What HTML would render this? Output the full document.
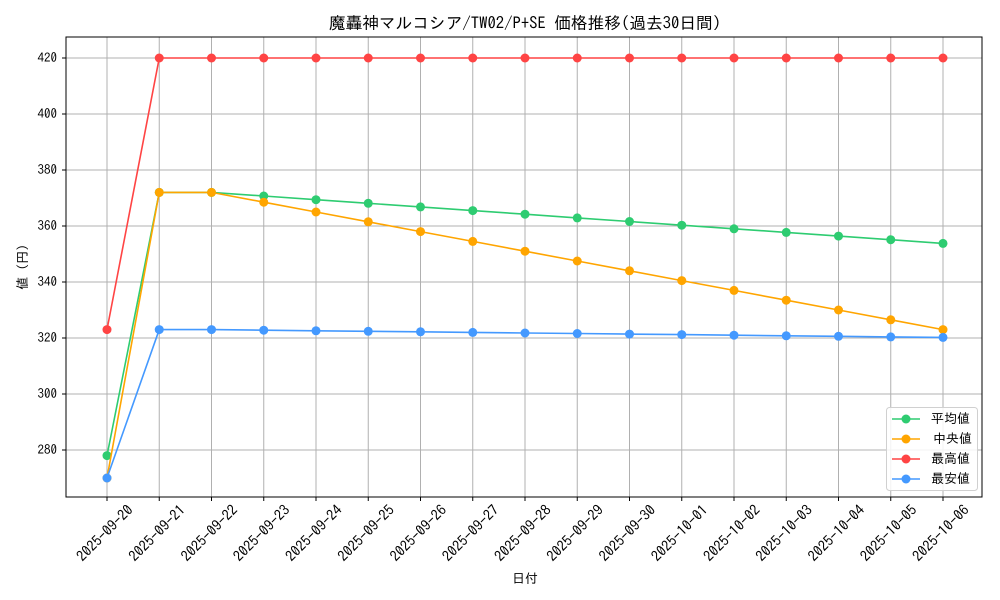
<!DOCTYPE html>
<html><head><meta charset="utf-8"><style>body{margin:0;background:#fff}svg{display:block}text{font-family:"IPAGothic","Liberation Sans",sans-serif;fill:#000}</style></head><body>
<svg width="1000" height="600" xmlns="http://www.w3.org/2000/svg">
<g stroke="#b0b0b0" stroke-width="1">
<line x1="107" y1="37" x2="107" y2="497"/><line x1="159.25" y1="37" x2="159.25" y2="497"/><line x1="211.5" y1="37" x2="211.5" y2="497"/><line x1="263.75" y1="37" x2="263.75" y2="497"/><line x1="316" y1="37" x2="316" y2="497"/><line x1="368.25" y1="37" x2="368.25" y2="497"/><line x1="420.5" y1="37" x2="420.5" y2="497"/><line x1="472.75" y1="37" x2="472.75" y2="497"/><line x1="525" y1="37" x2="525" y2="497"/><line x1="577.25" y1="37" x2="577.25" y2="497"/><line x1="629.5" y1="37" x2="629.5" y2="497"/><line x1="681.75" y1="37" x2="681.75" y2="497"/><line x1="734" y1="37" x2="734" y2="497"/><line x1="786.25" y1="37" x2="786.25" y2="497"/><line x1="838.5" y1="37" x2="838.5" y2="497"/><line x1="890.75" y1="37" x2="890.75" y2="497"/><line x1="943" y1="37" x2="943" y2="497"/>
<line x1="66" y1="450" x2="982" y2="450"/><line x1="66" y1="394" x2="982" y2="394"/><line x1="66" y1="338" x2="982" y2="338"/><line x1="66" y1="282" x2="982" y2="282"/><line x1="66" y1="226" x2="982" y2="226"/><line x1="66" y1="170" x2="982" y2="170"/><line x1="66" y1="114" x2="982" y2="114"/><line x1="66" y1="58" x2="982" y2="58"/>
</g>
<rect x="66" y="37" width="916" height="460" fill="none" stroke="#000" stroke-width="1"/>
<g stroke="#000"><line x1="62" y1="450" x2="66" y2="450"/><line x1="62" y1="394" x2="66" y2="394"/><line x1="62" y1="338" x2="66" y2="338"/><line x1="62" y1="282" x2="66" y2="282"/><line x1="62" y1="226" x2="66" y2="226"/><line x1="62" y1="170" x2="66" y2="170"/><line x1="62" y1="114" x2="66" y2="114"/><line x1="62" y1="58" x2="66" y2="58"/></g>
<g font-size="13" text-anchor="end"><text x="57" y="454">280</text><text x="57" y="398">300</text><text x="57" y="342">320</text><text x="57" y="286">340</text><text x="57" y="230">360</text><text x="57" y="174">380</text><text x="57" y="118">400</text><text x="57" y="62">420</text></g>
<g font-size="14.5" text-anchor="end">
<text transform="translate(134,511) rotate(-45)">2025-09-20</text>
<text transform="translate(186.25,511) rotate(-45)">2025-09-21</text>
<text transform="translate(238.5,511) rotate(-45)">2025-09-22</text>
<text transform="translate(290.75,511) rotate(-45)">2025-09-23</text>
<text transform="translate(343,511) rotate(-45)">2025-09-24</text>
<text transform="translate(395.25,511) rotate(-45)">2025-09-25</text>
<text transform="translate(447.5,511) rotate(-45)">2025-09-26</text>
<text transform="translate(499.75,511) rotate(-45)">2025-09-27</text>
<text transform="translate(552,511) rotate(-45)">2025-09-28</text>
<text transform="translate(604.25,511) rotate(-45)">2025-09-29</text>
<text transform="translate(656.5,511) rotate(-45)">2025-09-30</text>
<text transform="translate(708.75,511) rotate(-45)">2025-10-01</text>
<text transform="translate(761,511) rotate(-45)">2025-10-02</text>
<text transform="translate(813.25,511) rotate(-45)">2025-10-03</text>
<text transform="translate(865.5,511) rotate(-45)">2025-10-04</text>
<text transform="translate(917.75,511) rotate(-45)">2025-10-05</text>
<text transform="translate(970,511) rotate(-45)">2025-10-06</text>
</g>
<g stroke="#000"><line x1="107" y1="497" x2="107" y2="501"/><line x1="159.25" y1="497" x2="159.25" y2="501"/><line x1="211.5" y1="497" x2="211.5" y2="501"/><line x1="263.75" y1="497" x2="263.75" y2="501"/><line x1="316" y1="497" x2="316" y2="501"/><line x1="368.25" y1="497" x2="368.25" y2="501"/><line x1="420.5" y1="497" x2="420.5" y2="501"/><line x1="472.75" y1="497" x2="472.75" y2="501"/><line x1="525" y1="497" x2="525" y2="501"/><line x1="577.25" y1="497" x2="577.25" y2="501"/><line x1="629.5" y1="497" x2="629.5" y2="501"/><line x1="681.75" y1="497" x2="681.75" y2="501"/><line x1="734" y1="497" x2="734" y2="501"/><line x1="786.25" y1="497" x2="786.25" y2="501"/><line x1="838.5" y1="497" x2="838.5" y2="501"/><line x1="890.75" y1="497" x2="890.75" y2="501"/><line x1="943" y1="497" x2="943" y2="501"/></g>
<text x="525" y="29" font-size="16.7" text-anchor="middle">魔轟神マルコシア/TW02/P+SE 価格推移(過去30日間)</text>
<text x="525" y="583" font-size="13" text-anchor="middle">日付</text>
<text transform="translate(27,267) rotate(-90)" font-size="13" text-anchor="middle">値 (円)</text>
<defs>
<marker id="mg" markerWidth="10" markerHeight="10" refX="5" refY="5" markerUnits="userSpaceOnUse"><circle cx="5" cy="5" r="4.5" fill="#2ecc71"/></marker>
<marker id="mo" markerWidth="10" markerHeight="10" refX="5" refY="5" markerUnits="userSpaceOnUse"><circle cx="5" cy="5" r="4.5" fill="#ffa500"/></marker>
<marker id="mr" markerWidth="10" markerHeight="10" refX="5" refY="5" markerUnits="userSpaceOnUse"><circle cx="5" cy="5" r="4.5" fill="#ff4444"/></marker>
<marker id="mb" markerWidth="10" markerHeight="10" refX="5" refY="5" markerUnits="userSpaceOnUse"><circle cx="5" cy="5" r="4.5" fill="#4499ff"/></marker>
</defs>
<g fill="none" stroke-width="1.6">
<polyline stroke="#2ecc71" marker-start="url(#mg)" marker-mid="url(#mg)" marker-end="url(#mg)" points="107,455.6 159.25,192.4 211.5,192.4 263.75,196 316,199.7 368.25,203.3 420.5,206.9 472.75,210.6 525,214.2 577.25,217.9 629.5,221.5 681.75,225.2 734,228.8 786.25,232.4 838.5,236.1 890.75,239.7 943,243.4"/>
<polyline stroke="#ffa500" marker-start="url(#mo)" marker-mid="url(#mo)" marker-end="url(#mo)" points="107,478 159.25,192.4 211.5,192.4 263.75,202.2 316,212 368.25,221.8 420.5,231.6 472.75,241.4 525,251.2 577.25,261 629.5,270.8 681.75,280.6 734,290.4 786.25,300.2 838.5,310 890.75,319.8 943,329.6"/>
<polyline stroke="#ff4444" marker-start="url(#mr)" marker-mid="url(#mr)" marker-end="url(#mr)" points="107,329.6 159.25,58 211.5,58 263.75,58 316,58 368.25,58 420.5,58 472.75,58 525,58 577.25,58 629.5,58 681.75,58 734,58 786.25,58 838.5,58 890.75,58 943,58"/>
<polyline stroke="#4499ff" marker-start="url(#mb)" marker-mid="url(#mb)" marker-end="url(#mb)" points="107,478 159.25,329.6 211.5,329.6 263.75,330.2 316,330.8 368.25,331.3 420.5,331.8 472.75,332.4 525,333 577.25,333.5 629.5,334.1 681.75,334.6 734,335.2 786.25,335.8 838.5,336.3 890.75,336.9 943,337.4"/>
</g>
<rect x="886.5" y="407.5" width="91" height="83" rx="3" fill="#fff" fill-opacity="0.85" stroke="#d0d0d0"/>
<g stroke-width="1.6">
<line x1="892" y1="419" x2="920" y2="419" stroke="#2ecc71"/><circle cx="906" cy="419" r="4.5" fill="#2ecc71"/>
<line x1="892" y1="439" x2="920" y2="439" stroke="#ffa500"/><circle cx="906" cy="439" r="4.5" fill="#ffa500"/>
<line x1="892" y1="459" x2="920" y2="459" stroke="#ff4444"/><circle cx="906" cy="459" r="4.5" fill="#ff4444"/>
<line x1="892" y1="479" x2="920" y2="479" stroke="#4499ff"/><circle cx="906" cy="479" r="4.5" fill="#4499ff"/>
</g>
<g font-size="13"><text x="931" y="423">平均値</text><text x="933" y="443">中央値</text><text x="931" y="463">最高値</text><text x="931" y="483">最安値</text></g>
</svg>
</body></html>
